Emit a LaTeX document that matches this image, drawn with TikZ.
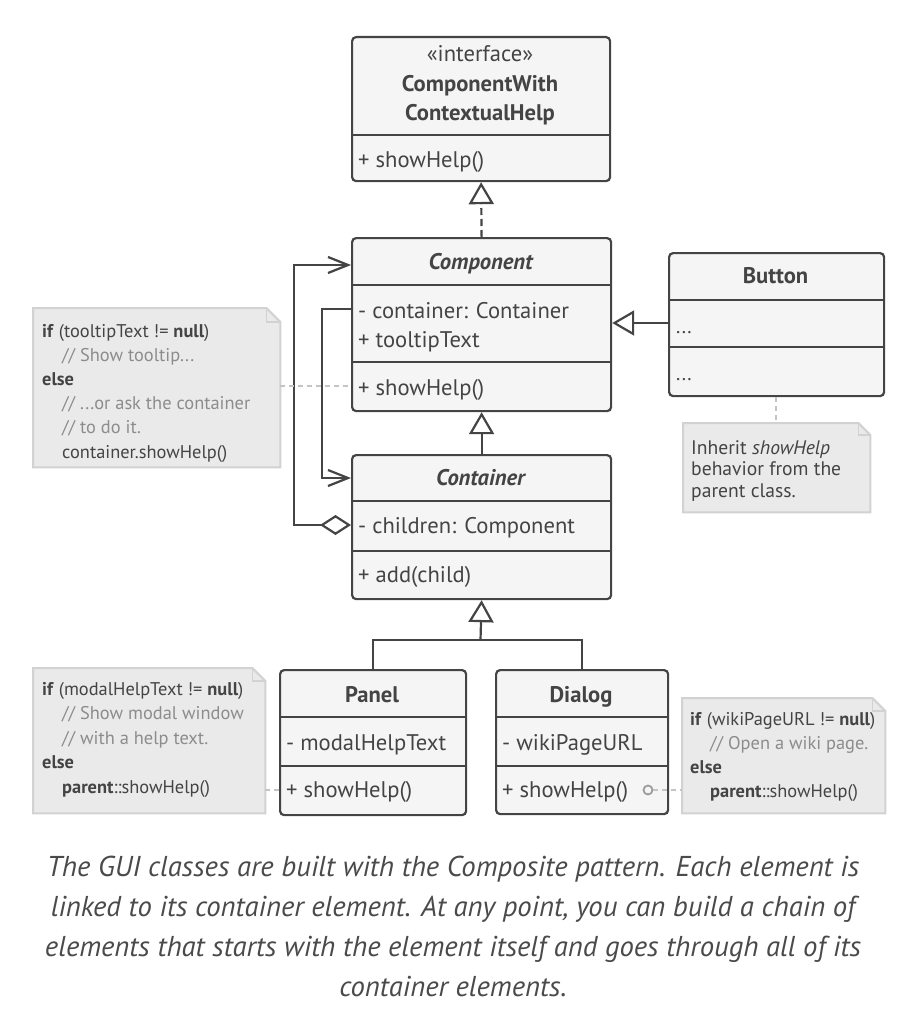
\documentclass[tikz,border=0pt]{standalone}
\usepackage{fontspec}
\setmainfont{PT Sans}
\usetikzlibrary{arrows.meta}
\definecolor{ink}{HTML}{444444}
\definecolor{boxfill}{HTML}{F5F5F5}
\definecolor{notefill}{HTML}{EAEAEA}
\definecolor{noteline}{HTML}{D2D2D2}
\definecolor{comment}{HTML}{8C8C8C}
\definecolor{linkgray}{HTML}{C4C4C4}
\definecolor{captext}{HTML}{4A4A4A}
\newcommand\cmt[1]{\textcolor{comment}{#1}}
\newcommand\ind{\hspace*{20pt}}
\begin{document}
\begin{tikzpicture}[x=1pt,y=-1pt,
  box/.style={draw=ink, line width=2.2pt, fill=boxfill, rounded corners=4pt, inner sep=0pt, anchor=north west},
  divider/.style={draw=ink, line width=2.6pt},
  ttl/.style={text=ink, font=\fontsize{22.6}{29.5}\selectfont\bfseries, anchor=base, inner sep=0pt, align=center},
  mem/.style={text=ink, font=\fontsize{22.6}{29.5}\selectfont, anchor=base west, inner sep=0pt},
  notebox/.style={inner sep=0pt, anchor=north west, draw=none},
  notetext/.style={text=ink, font=\fontsize{18.4}{24.2}\selectfont, anchor=base west, inner sep=0pt, align=left},
  line/.style={draw=ink, line width=2.2pt},
  gen/.style={line, -{Triangle[open, length=22pt, width=25pt, line width=2.2pt]}},
  real/.style={gen, dash pattern=on 7pt off 4pt},
  assoc/.style={line, -{Straight Barb[length=20pt, width=16pt, line width=2.2pt]}},
  aggr/.style={line, {Diamond[open, length=31pt, width=20pt, line width=2.2pt]}-{Straight Barb[length=20pt, width=16pt, line width=2.2pt]}},
  notelink/.style={draw=linkgray, line width=2pt, dash pattern=on 5pt off 4pt},
  notepath/.style={draw=noteline, fill=notefill, line width=2pt}
]
\useasboundingbox (0,0) rectangle (906,1030);

% ---------- interface ----------
\node[box, minimum width=258pt, minimum height=144pt] (iface) at (351,36) {};
\draw[divider] (iface.west |- 0,135) -- (iface.east |- 0,135);
\node[ttl] (iface-t) at (480,121) {\mdseries«interface»\\ComponentWith\\ContextualHelp};
\node[mem] (iface-m) at (358,167) {+ showHelp()};

% ---------- Component ----------
\node[box, minimum width=259pt, minimum height=173pt] (comp) at (351,237) {};
\draw[divider] (comp.west |- 0,285) -- (comp.east |- 0,285);
\draw[divider] (comp.west |- 0,362) -- (comp.east |- 0,362);
\node[ttl] (comp-t) at (480.5,269) {\itshape Component};
\node[mem] (comp-a1) at (358,318) {- container: Container};
\node[mem] (comp-a2) at (358,347) {+ tooltipText};
\node[mem] (comp-m) at (358,395) {+ showHelp()};

% ---------- Container ----------
\node[box, minimum width=259pt, minimum height=144pt] (cont) at (351,454) {};
\draw[divider] (cont.west |- 0,501) -- (cont.east |- 0,501);
\draw[divider] (cont.west |- 0,551) -- (cont.east |- 0,551);
\node[ttl] (cont-t) at (480.5,485) {\itshape Container};
\node[mem] (cont-a) at (358,533) {- children: Component};
\node[mem] (cont-m) at (358,582) {+ add(child)};

% ---------- Button ----------
\node[box, minimum width=215pt, minimum height=143pt] (button) at (668,252) {};
\draw[divider] (button.west |- 0,300) -- (button.east |- 0,300);
\draw[divider] (button.west |- 0,347) -- (button.east |- 0,347);
\node[ttl] (button-t) at (775.5,283) {Button};
\node[mem] (button-a) at (676,333) {\fontsize{20}{24}\selectfont ...};
\node[mem] (button-m) at (676,380) {\fontsize{20}{24}\selectfont ...};

% ---------- Panel ----------
\node[box, minimum width=186pt, minimum height=145pt] (panel) at (279,669) {};
\draw[divider] (panel.west |- 0,717) -- (panel.east |- 0,717);
\draw[divider] (panel.west |- 0,766) -- (panel.east |- 0,766);
\node[ttl] (panel-t) at (372,702) {Panel};
\node[mem] (panel-a) at (286,750) {- modalHelpText};
\node[mem] (panel-m) at (286,797) {+ showHelp()};

% ---------- Dialog ----------
\node[box, minimum width=172pt, minimum height=144pt] (dialog) at (495,669) {};
\draw[divider] (dialog.west |- 0,717) -- (dialog.east |- 0,717);
\draw[divider] (dialog.west |- 0,766) -- (dialog.east |- 0,766);
\node[ttl] (dialog-t) at (581,702) {Dialog};
\node[mem] (dialog-a) at (502,750) {- wikiPageURL};
\node[mem] (dialog-m) at (502,797) {+ showHelp()};

% ---------- notes ----------
% note 1
\node[notebox, minimum width=247pt, minimum height=159pt] (n1) at (33,308) {};
\draw[notepath] (n1.north west) -- ([xshift=-14pt]n1.north east) -- ([yshift=-14pt]n1.north east) -- (n1.south east) -- (n1.south west) -- cycle;
\draw[noteline, line width=1.5pt] ([xshift=-14pt]n1.north east) -- ([xshift=-14pt,yshift=-14pt]n1.north east) -- ([yshift=-14pt]n1.north east);
\node[notetext] (n1-t) at (42,458) {\textbf{if} (tooltipText != \textbf{null})\\
\ind\cmt{// Show tooltip...}\\
\textbf{else}\\
\ind\cmt{// ...or ask the container}\\
\ind\cmt{// to do it.}\\
\ind container.showHelp()};

% note 2 (button)
\node[notebox, minimum width=187pt, minimum height=89pt] (n2) at (683,423) {};
\draw[notepath] (n2.north west) -- ([xshift=-12pt]n2.north east) -- ([yshift=-12pt]n2.north east) -- (n2.south east) -- (n2.south west) -- cycle;
\draw[noteline, line width=1.5pt] ([xshift=-12pt]n2.north east) -- ([xshift=-12pt,yshift=-12pt]n2.north east) -- ([yshift=-12pt]n2.north east);
\node[notetext, font=\fontsize{19.6}{21.5}\selectfont] (n2-t) at (691,497) {Inherit \textit{showHelp}\\behavior from the\\parent class.};

% note 3 (panel)
\node[notebox, minimum width=232pt, minimum height=145pt] (n3) at (33,668) {};
\draw[notepath] (n3.north west) -- ([xshift=-13pt]n3.north east) -- ([yshift=-13pt]n3.north east) -- (n3.south east) -- (n3.south west) -- cycle;
\draw[noteline, line width=1.5pt] ([xshift=-13pt]n3.north east) -- ([xshift=-13pt,yshift=-13pt]n3.north east) -- ([yshift=-13pt]n3.north east);
\node[notetext, font=\fontsize{18.4}{24.5}\selectfont] (n3-t) at (42,793) {\textbf{if} (modalHelpText != \textbf{null})\\
\ind\cmt{// Show modal window}\\
\ind\cmt{// with a help text.}\\
\textbf{else}\\
\ind\textbf{parent}::showHelp()};

% note 4 (dialog)
\node[notebox, minimum width=203pt, minimum height=115pt] (n4) at (682,698) {};
\draw[notepath] (n4.north west) -- ([xshift=-13pt]n4.north east) -- ([yshift=-13pt]n4.north east) -- (n4.south east) -- (n4.south west) -- cycle;
\draw[noteline, line width=1.5pt] ([xshift=-13pt]n4.north east) -- ([xshift=-13pt,yshift=-13pt]n4.north east) -- ([yshift=-13pt]n4.north east);
\node[notetext, font=\fontsize{18.4}{24}\selectfont] (n4-t) at (690,797) {\textbf{if} (wikiPageURL != \textbf{null})\\
\ind\cmt{// Open a wiki page.}\\
\textbf{else}\\
\ind\textbf{parent}::showHelp()};

% ---------- connectors ----------
\draw[real] (comp.north) -- (iface.south);
\draw[gen] (cont.north) -- (comp.south);
\draw[gen] (button.west |- 0,323) -- (comp.east |- 0,323);
\coordinate (join) at (480.5,640);
\draw[line] (panel.north) |- (join) -| (dialog.north);
\draw[gen] (join) -- (cont.south);
\draw[aggr] (cont.west |- 0,525) -- ++(-57,0) |- (comp.west |- 0,265);
\draw[assoc] (comp.west |- 0,309) -- ++(-29,0) |- (cont.west |- 0,478);

\draw[notelink] (n1.east |- 0,386) -- (comp.west |- 0,386);
\draw[notelink] (button.south -| 776,0) -- (n2.north -| 776,0);
\draw[notelink] (n3.east |- 0,790) -- (panel.west |- 0,790);
\node[circle, draw=linkgray!80!black, line width=1.8pt, minimum size=9pt, inner sep=0pt, fill=boxfill] (dot) at (648,790) {};
\draw[notelink] (dot) -- (n4.west |- dot);

% ---------- caption ----------
\node[text=captext, font=\fontsize{28.7}{40}\selectfont\itshape, align=center, anchor=base, inner sep=0pt] (cap) at (453,996)
{The GUI classes are built with the Composite pattern. Each element is\\
linked to its container element. At any point, you can build a chain of\\
elements that starts with the element itself and goes through all of its\\
container elements.};
\end{tikzpicture}
\end{document}
